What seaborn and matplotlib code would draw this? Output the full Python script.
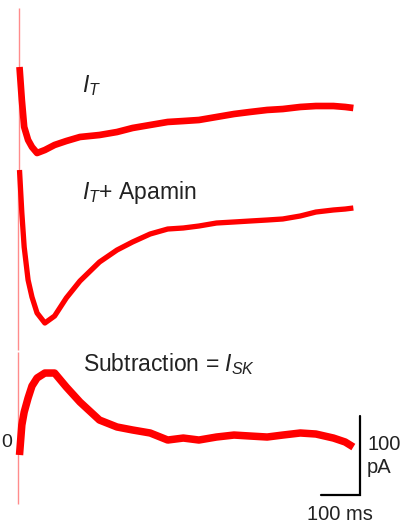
import numpy as np
import pandas as pd
import matplotlib
matplotlib.use('Agg')
import matplotlib.pyplot as plt
import seaborn as sns

sns.set_theme(style = 'white')
plt.rcParams['font.family'] = ['Liberation Sans', 'DejaVu Sans']
plt.rcParams['mathtext.fontset'] = 'custom'
plt.rcParams['mathtext.rm'] = 'Liberation Sans'
plt.rcParams['mathtext.it'] = 'Liberation Sans:italic'

# time (ms) after the voltage step
time_ms = [0, 6, 12, 22, 32, 45, 65, 90, 120, 155, 205, 250, 290, 335, 380,
           420, 460, 505, 550, 590, 635, 675, 720, 760, 805, 835, 856]

# currents (pA), relative to each trace's own start level
i_t = [0, -41.8, -75.9, -92.4, -101.3, -108.9, -105.1, -98.7, -93.7, -88.6,
       -86.1, -82.3, -77.2, -73.4, -69.6, -68.4, -67.1, -63.3, -59.5, -57.0,
       -54.4, -53.2, -50.6, -49.4, -49.4, -50.6, -51.9]
i_t_apamin = [0, -54.4, -97.5, -139.2, -160.8, -181.0, -193.7, -184.8, -162.0,
              -140.5, -116.5, -101.3, -91.1, -81.0, -74.7, -73.4, -70.9, -67.1,
              -65.8, -64.6, -63.3, -62.0, -58.2, -53.2, -50.6, -49.4, -48.1]
i_sk = [-15.2, 22.8, 39.2, 57.0, 72.2, 82.3, 88.6, 88.6, 70.9, 51.9, 29.1, 20.3,
        16.5, 12.7, 3.8, 6.3, 3.8, 7.6, 10.1, 8.9, 7.6, 10.1, 12.7, 11.4, 6.3,
        1.3, -5.1]

# capacitive transient extent (pA) for each trace
transient_top = [74.7, 0, 115.2]
transient_bottom = [-140.5, -227.8, -77.2]

labels = [r'$I_T$', r'$I_T$+ Apamin', r'Subtraction = $I_{SK}$']
bar_ms = 100
bar_pa = 100


def main() -> None:

    fig = plt.figure(figsize = (4.03, 5.24), dpi = 100)
    ax = fig.add_axes([0, 0, 1, 1])

    offsets = [578.5, 448.1, 102.5]
    widths = [4.8, 3.8, 5.4]
    tr_x = [-0.5, -3.0, -3.0]
    series = [i_t, i_t_apamin, i_sk]

    for k, vals in enumerate(series):
        df = pd.DataFrame({'t': time_ms, 'i': np.array(vals) + offsets[k]})
        ax.vlines(tr_x[k], transient_bottom[k] + offsets[k], transient_top[k] + offsets[k],
                  color = '#ff8c8c', linewidth = 1.0)
        sns.lineplot(data = df, x = 't', y = 'i', ax = ax, color = '#ff0000',
                     linewidth = widths[k], solid_joinstyle = 'round', solid_capstyle = 'butt')

    txt = dict(color = '#222222', fontsize = 16.5, va = 'baseline', ha = 'left')
    ax.text(160, 546.8, labels[0], **txt)
    ax.text(160, 411.4, labels[1], **txt)
    ax.text(163, 193.7, labels[2], **txt)
    ax.text(-48, 97.5, '0', color = '#222222', fontsize = 14, va = 'baseline', ha = 'left')

    # scale bar
    x0, y0 = 873, 36.7
    ax.plot([x0 - bar_ms, x0, x0], [y0, y0, y0 + bar_pa], color = 'black',
            linewidth = 1.6, solid_joinstyle = 'miter')
    ax.text(891, 93.7, '100', color = '#222222', fontsize = 14.5, va = 'baseline')
    ax.text(891, 64.6, 'pA', color = '#222222', fontsize = 14.5, va = 'baseline')
    ax.text(737, 5.1, '100 ms', color = '#222222', fontsize = 14.5, va = 'baseline')

    ax.set_xlim(-50, 983.3)
    ax.set_ylim(0, 663.3)
    ax.axis('off')
    fig.savefig('out.png', dpi = 100)


if __name__ == '__main__': main()
